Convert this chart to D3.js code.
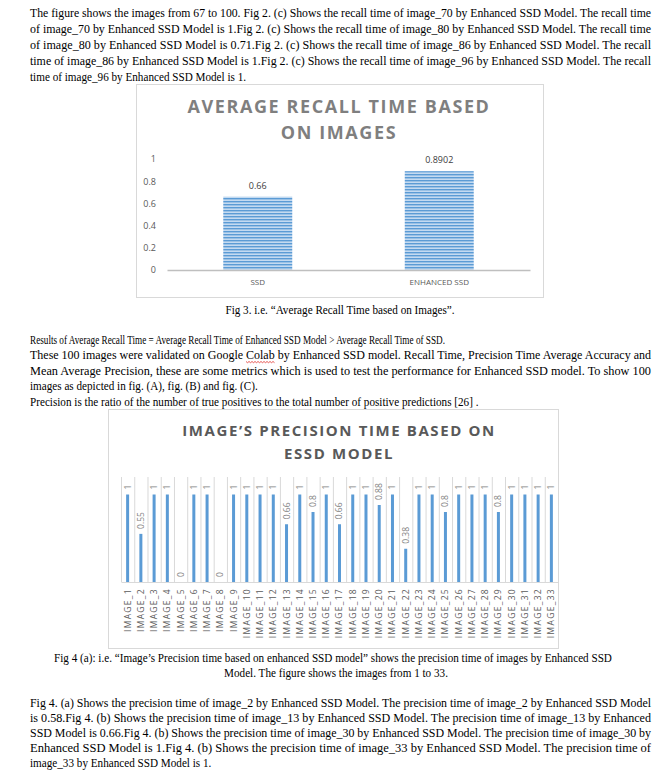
<!DOCTYPE html>
<html>
<head>
<meta charset="utf-8">
<script src="https://cdn.jsdelivr.net/npm/d3@7"></script>
<style>
  html, body { margin: 0; padding: 0; background: #fff; }
  svg { display: block; }
</style>
</head>
<body>
<svg id="page" width="668" height="779"></svg>
<script>
// chart 1 data
const recallModels = ["SSD", "ENHANCED SSD"];
const recallValues = [0.66, 0.8902];
const recallTicks = [0, 0.2, 0.4, 0.6, 0.8, 1];

// chart 2 data
const imageNames = d3.range(1, 34).map(i => "IMAGE_" + i);
const precisionValues = [1, 0.55, 1, 1, 0, 1, 1, 0, 1, 1, 1, 1, 0.66, 1, 0.8, 1, 0.66,
                         1, 1, 0.88, 1, 0.38, 1, 1, 0.8, 1, 1, 1, 0.8, 1, 1, 1, 1];

// document text, line by line (all but the last line of a paragraph are justified)
const para1 = [
  "The figure shows the images from 67 to 100. Fig 2. (c) Shows the recall time of image_70 by Enhanced SSD Model. The recall time",
  "of image_70 by Enhanced SSD Model is 1.Fig 2. (c) Shows the recall time of image_80 by Enhanced SSD Model. The recall time",
  "of image_80 by Enhanced SSD Model is 0.71.Fig 2. (c) Shows the recall time of image_86 by Enhanced SSD Model. The recall",
  "time of image_86 by Enhanced SSD Model is 1.Fig 2. (c) Shows the recall time of image_96 by Enhanced SSD Model. The recall",
  "time of image_96 by Enhanced SSD Model is 1."
];
const para2 = [
  "These 100 images were validated on Google Colab by Enhanced SSD model. Recall Time, Precision Time Average Accuracy and",
  "Mean Average Precision, these are some metrics which is used to test the performance for Enhanced SSD model. To show 100",
  "images as depicted in fig. (A), fig. (B) and fig. (C)."
];
const para3 = [
  "Fig 4. (a) Shows the precision time of image_2 by Enhanced SSD Model. The precision time of image_2 by Enhanced SSD Model",
  "is 0.58.Fig 4. (b) Shows the precision time of image_13 by Enhanced SSD Model. The precision time of image_13 by Enhanced",
  "SSD Model is 0.66.Fig 4. (b) Shows the precision time of image_30 by Enhanced SSD Model. The precision time of image_30 by",
  "Enhanced SSD Model is 1.Fig 4. (b) Shows the precision time of image_33 by Enhanced SSD Model. The precision time of",
  "image_33 by Enhanced SSD Model is 1."
];

const svg = d3.select("#page");
const serif = "'Liberation Serif', 'Times New Roman', serif";
const sans = "'Open Sans', 'Liberation Sans', sans-serif";
const left = 30, right = 651;
const squeeze = 0.93;   // the scan's Times looks a little condensed

function textLine(x, y, str, opts = {}) {
  const t = svg.append("text")
      .attr("x", x).attr("y", y)
      .attr("font-family", serif)
      .attr("font-size", opts.size || 12)
      .attr("fill", "#000")
      .attr("text-anchor", opts.anchor || "start")
      .text(str);
  const w = t.node().getComputedTextLength();
  const target = opts.width || w * squeeze;
  t.attr("textLength", target).attr("lengthAdjust", "spacingAndGlyphs");
  return t;
}

function paragraph(lines, y0, lh) {
  return lines.map((s, i) => {
    const last = i === lines.length - 1;
    return textLine(left, y0 + i * lh, s, last ? {} : { width: right - left });
  });
}

paragraph(para1, 17, 16);
textLine(340, 314, "Fig 3.  i.e. \u201CAverage Recall Time based on Images\u201D.", { anchor: "middle" });
textLine(left, 344, "Results of Average Recall Time = Average Recall Time of Enhanced SSD Model > Average Recall Time of SSD.", { width: 415 });
const p2 = paragraph(para2, 359, 15.5);
textLine(left, 406, "Precision is the ratio of the number of true positives to the total number of positive predictions [26] .");
textLine(333, 662, "Fig 4 (a): i.e. \u201CImage\u2019s Precision time based on enhanced SSD model\u201D shows the precision time of images by Enhanced SSD", { anchor: "middle" });
textLine(336, 677, "Model. The figure shows the images from 1 to 33.", { anchor: "middle" });
paragraph(para3, 707, 15);

// spell-check squiggle under "Colab"
{
  const node = p2[0].node();
  const k = para2[0].indexOf("Colab");
  const xa = node.getStartPositionOfChar(k).x;
  const xb = node.getEndPositionOfChar(k + 4).x;
  const pts = d3.range(xa, xb + 0.1, 1.5).map((x, i) => [x, 361.5 + (i % 2 ? 1.2 : 0)]);
  svg.append("path")
      .attr("d", d3.line()(pts))
      .attr("fill", "none").attr("stroke", "#e0302a").attr("stroke-width", 0.8);
}

// ---------- chart 1: average recall time ----------
const defs = svg.append("defs");
const pat = defs.append("pattern")
    .attr("id", "stripes")
    .attr("patternUnits", "userSpaceOnUse")
    .attr("width", 6).attr("height", 3);
pat.append("rect").attr("width", 6).attr("height", 3).attr("fill", "#c4daf1");
pat.append("rect").attr("width", 6).attr("height", 1.4).attr("fill", "#5b9bd5");

const c1 = svg.append("g");
c1.append("rect")
    .attr("x", 136.5).attr("y", 84.5).attr("width", 407).attr("height", 213)
    .attr("fill", "#fff").attr("stroke", "#d9d9d9");

[["AVERAGE RECALL TIME BASED", 113], ["ON IMAGES", 139]].forEach(([s, y]) => {
  c1.append("text")
      .attr("x", 339).attr("y", y)
      .attr("text-anchor", "middle")
      .attr("font-family", sans).attr("font-weight", "bold")
      .attr("font-size", 18).attr("letter-spacing", 1.6)
      .attr("fill", "#7f7f7f")
      .text(s);
});

const x1 = d3.scaleBand().domain(recallModels).range([167, 530])
    .paddingInner(0.62).paddingOuter(0.31);
const y1 = d3.scaleLinear().domain([0, 1]).range([270, 159]);

c1.append("g")
    .attr("transform", "translate(159,0)")
    .call(d3.axisLeft(y1).tickValues(recallTicks).tickSize(0).tickFormat(d3.format(".1~f")))
    .call(g => g.select(".domain").remove())
    .call(g => g.selectAll("text")
        .attr("font-family", sans).attr("font-size", 9).attr("fill", "#595959"));

c1.selectAll("rect.bar")
    .data(recallValues)
    .enter().append("rect")
    .attr("class", "bar")
    .attr("x", (d, i) => x1(recallModels[i]))
    .attr("y", d => y1(d))
    .attr("width", x1.bandwidth())
    .attr("height", d => y1(0) - y1(d))
    .attr("fill", "url(#stripes)");

c1.selectAll("text.val")
    .data(recallValues)
    .enter().append("text")
    .attr("class", "val")
    .attr("x", (d, i) => x1(recallModels[i]) + x1.bandwidth() / 2)
    .attr("y", d => y1(d) - 8)
    .attr("text-anchor", "middle")
    .attr("font-family", sans).attr("font-size", 9).attr("fill", "#404040")
    .text(d => d);

c1.append("g")
    .attr("transform", `translate(0,${y1(0)})`)
    .call(d3.axisBottom(x1).tickSize(0).tickPadding(9))
    .call(g => g.select(".domain").attr("stroke", "#bfbfbf").attr("stroke-width", 1.5))
    .call(g => g.selectAll("text")
        .attr("font-family", sans).attr("font-size", 8).attr("fill", "#595959"));

// ---------- chart 2: precision per image ----------
const c2 = svg.append("g");
c2.append("rect")
    .attr("x", 108.5).attr("y", 409.5).attr("width", 450).attr("height", 239)
    .attr("fill", "#fff").attr("stroke", "#d9d9d9");

[["IMAGE\u2019S PRECISION TIME BASED ON", 436], ["ESSD MODEL", 459]].forEach(([s, y]) => {
  c2.append("text")
      .attr("x", 339).attr("y", y)
      .attr("text-anchor", "middle")
      .attr("font-family", sans).attr("font-weight", "bold")
      .attr("font-size", 15).attr("letter-spacing", 1.6)
      .attr("fill", "#595959")
      .text(s);
});

const x2 = d3.scaleBand().domain(imageNames).range([121, 558]);
const y2 = d3.scaleLinear().domain([0, 1.2]).range([582, 477]);

// vertical gridlines between categories
c2.append("g")
    .selectAll("line")
    .data(imageNames.concat(["end"]))
    .enter().append("line")
    .attr("x1", (d, i) => 121 + i * x2.step() + 0.5)
    .attr("x2", (d, i) => 121 + i * x2.step() + 0.5)
    .attr("y1", y2(1.2)).attr("y2", y2(0))
    .attr("stroke", "#d9d9d9");

c2.selectAll("rect.bar")
    .data(precisionValues)
    .enter().append("rect")
    .attr("class", "bar")
    .attr("x", (d, i) => x2(imageNames[i]) + x2.bandwidth() / 2 - 1.5)
    .attr("y", d => y2(d))
    .attr("width", 3)
    .attr("height", d => y2(0) - y2(d))
    .attr("fill", "#5b9bd5");

c2.selectAll("text.val")
    .data(precisionValues)
    .enter().append("text")
    .attr("class", "val")
    .attr("transform", (d, i) =>
        `translate(${x2(imageNames[i]) + x2.bandwidth() / 2},${y2(d) - 5}) rotate(-90)`)
    .attr("dy", "0.35em")
    .attr("font-family", sans).attr("font-size", 8.5).attr("fill", "#7f7f7f")
    .text(d => d);

c2.append("g")
    .attr("transform", `translate(0,${y2(0)})`)
    .call(d3.axisBottom(x2).tickSize(0).tickPadding(6))
    .call(g => g.select(".domain").attr("stroke", "#d9d9d9").attr("stroke-width", 1.2))
    .call(g => g.selectAll("text")
        .attr("transform", "rotate(-90)")
        .attr("text-anchor", "end")
        .attr("x", -6).attr("y", 0).attr("dy", "0.35em")
        .attr("font-family", sans).attr("font-size", 8.5)
        .attr("letter-spacing", 1.3).attr("fill", "#595959"));
</script>
</body>
</html>
